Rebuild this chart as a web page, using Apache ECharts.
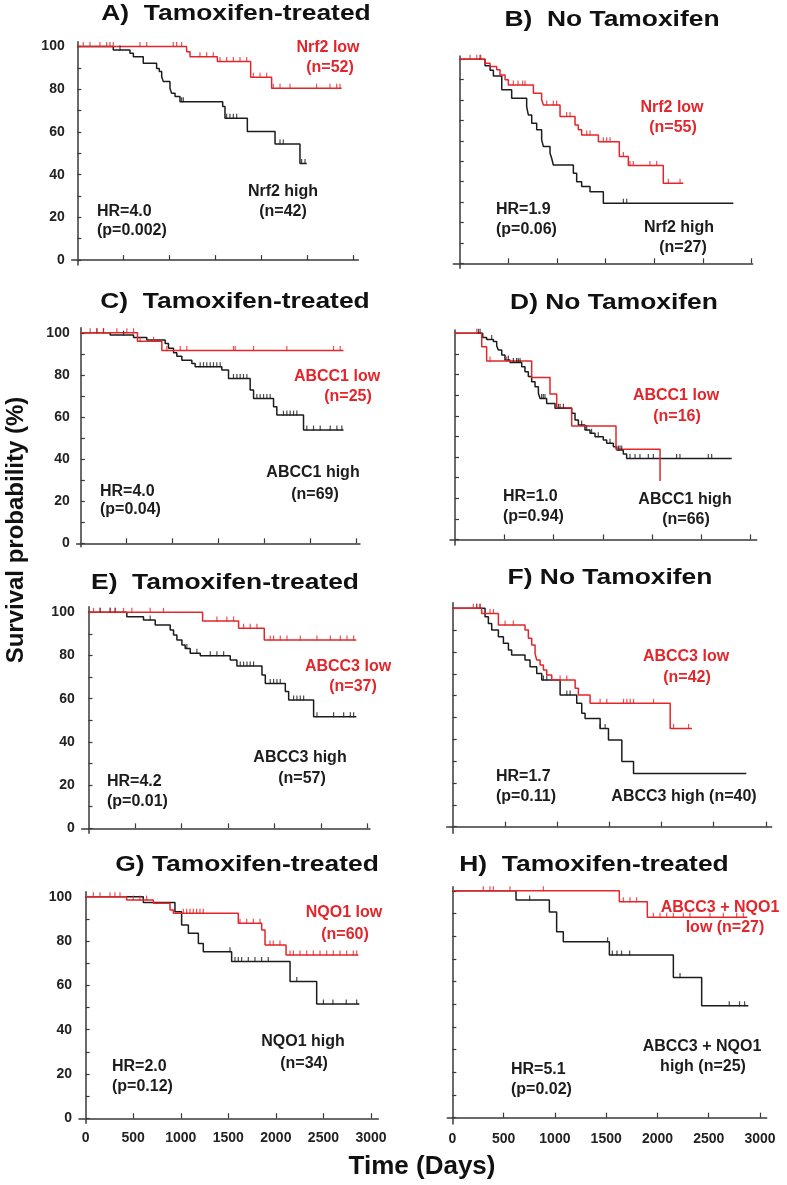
<!DOCTYPE html>
<html><head><meta charset="utf-8">
<script src="https://cdn.jsdelivr.net/npm/echarts@6/dist/echarts.min.js"></script>
<style>html,body{margin:0;padding:0;background:#fff}#c{width:787px;height:1185px}</style>
</head><body><div id="c"></div>
<script>
// ---------- DATA (days, survival %) ----------
const xTickValues = [500, 1000, 1500, 2000, 2500, 3000];
const xLabelValues = [0, 500, 1000, 1500, 2000, 2500, 3000];
const yTickValues = [0, 10, 20, 30, 40, 50, 60, 70, 80, 90, 100];
const yLabelValues = [0, 20, 40, 60, 80, 100];

// A
const A_low = [[0,100],[1188,97.6],[1225,95.3],[1522,93.0],[1884,85.6],[2112,80.5],[2873,80.5]];
const A_low_cens = [65,138,246,319,355,391,681,754,1043,1080,1134,1333,1406,1478,1551,1623,1696,1768,1841,1913,1986,2058,2130,2203,2312,2601,2746,2819,2855];
const A_high = [[0,100],[391,98.4],[572,96.9],[609,95.3],[717,92.2],[862,89.8],[891,88.3],[917,85.9],[935,83.6],[1007,80.5],[1025,78.1],[1062,76.6],[1116,74.2],[1580,71.9],[1605,66.4],[1848,60.2],[2149,54.4],[2420,45.3],[2493,45.3]];
const A_high_cens = [464,1134,1152,1623,1659,1696,1732,2203,2239,2438,2475];
// B
const B_low = [[0,100],[260,98.0],[312,96.4],[380,94.8],[414,92.3],[466,89.9],[500,87.4],[757,83.3],[842,80.1],[860,77.6],[1031,71.9],[1185,67.8],[1219,65.4],[1253,62.9],[1425,59.6],[1640,52.3],[1733,47.9],[2092,39.2],[2298,39.2]];
const B_low_cens = [106,175,216,551,599,647,671,894,962,996,1099,1134,1305,1339,1476,1510,1545,1682,1750,1784,1955,2024,2144,2264];
const B_high = [[0,100],[260,96.8],[312,94.6],[346,91.8],[432,85.0],[534,80.9],[688,76.8],[705,72.7],[740,68.6],[791,65.4],[842,60.5],[860,57.2],[928,53.9],[945,51.5],[962,48.2],[1168,44.1],[1202,40.0],[1253,37.6],[1339,35.1],[1476,29.4],[2812,29.4]];
const B_high_cens = [209,1682,1716];
// C
const C_low = [[0,100],[618,96.0],[884,91.6],[2865,91.6]];
const C_low_cens = [102,175,247,393,502,575,647,793,938,1084,1156,1665,1684,1884,2247,2756,2829];
const C_high = [[0,100],[320,98.9],[575,97.8],[720,96.5],[920,94.9],[956,92.6],[1011,90.5],[1047,88.9],[1102,87.0],[1211,85.4],[1247,83.9],[1538,82.3],[1611,78.3],[1847,72.8],[1884,68.8],[2102,64.9],[2138,60.9],[2429,53.8],[2865,53.8]];
const C_high_cens = [175,247,466,1302,1338,1374,1411,1447,1483,1520,1665,1702,1738,1774,1811,1920,1956,1993,2029,2065,2210,2247,2283,2320,2356,2465,2538,2611,2720,2793,2847];
// D
const D_low = [[0,100],[271,93.5],[321,86.6],[778,78.5],[964,70.6],[1032,63.9],[1184,55.0],[1634,43.7],[2081,28.3]];
const D_low_cens = [220,355,524];
const D_high = [[0,100],[281,98.0],[321,97.0],[389,96.0],[423,93.9],[440,91.9],[474,89.5],[507,87.1],[558,85.8],[677,83.8],[710,81.4],[744,79.0],[778,76.5],[812,74.1],[846,70.9],[863,68.4],[930,66.0],[1015,63.6],[1184,61.2],[1218,57.9],[1252,55.5],[1319,53.1],[1370,51.5],[1421,49.8],[1505,48.2],[1539,46.6],[1607,45.0],[1641,43.4],[1708,41.4],[1742,39.3],[2808,39.3]];
const D_high_cens = [237,254,372,541,592,625,642,660,879,896,913,1049,1066,1100,1285,1336,1386,1454,1573,1658,1675,1692,1776,1827,1877,1962,2013,2249,2283,2571,2605];
// E
const E_low = [[0,100],[1226,96.0],[1613,92.6],[1889,87.2],[2878,87.2]];
const E_low_cens = [54,125,233,287,376,466,663,806,1380,1487,1559,1667,1738,1810,1953,1989,2061,2133,2276,2455,2599,2706,2778,2849];
const E_high = [[0,100],[412,98.0],[591,96.5],[717,94.1],[878,91.8],[914,89.5],[950,87.2],[1004,84.9],[1039,83.3],[1093,81.0],[1201,79.9],[1523,77.9],[1595,75.2],[1864,71.0],[1900,67.1],[2115,63.3],[2151,59.4],[2419,51.7],[2878,51.7]];
const E_high_cens = [125,233,287,663,1057,1165,1309,1380,1452,1631,1667,1703,1738,1774,1953,1989,2025,2061,2204,2240,2276,2312,2455,2634,2742,2814,2849];
// F
const F_low = [[0,100],[278,97.7],[438,92.4],[693,90.1],[725,86.3],[757,83.2],[789,79.4],[805,76.3],[837,74.0],[869,71.8],[901,69.5],[949,67.2],[1173,63.4],[1204,60.3],[1316,56.5],[2083,45.0],[2291,45.0]];
const F_low_cens = [198,230,262,358,390,502,581,1029,1093,1412,1476,1636,1668,1700,1732,1923,2115,2259];
const F_high = [[0,100],[310,96.2],[342,93.1],[374,90.1],[438,87.0],[486,84.0],[534,80.9],[565,78.6],[693,76.3],[741,73.3],[805,70.2],[853,67.2],[1029,60.3],[1188,56.5],[1236,51.9],[1268,49.6],[1412,45.0],[1492,39.7],[1620,29.8],[1732,24.4],[2812,24.4]];
const F_high_cens = [230,262,869,901,1093,1125,1412,1460];
// G
const G_low = [[0,100],[431,98.5],[712,97.0],[887,94.0],[922,92.5],[1605,88.0],[1851,85.0],[1886,78.2],[2107,73.7],[2867,73.7]];
const G_low_cens = [81,151,256,308,361,501,571,641,1027,1062,1097,1132,1167,1202,1237,1623,1693,1763,1833,1938,1973,2043,2149,2184,2254,2324,2394,2464,2534,2604,2674,2744,2814,2850];
const G_high = [[0,100],[606,97.4],[939,93.2],[1009,87.2],[1080,83.5],[1185,78.9],[1237,75.2],[1535,70.7],[2149,61.7],[2429,51.6],[2878,51.6]];
const G_high_cens = [1518,1570,1605,1640,1710,1780,1850,1920,2220,2500,2600,2740,2850];
// H
const H_low = [[0,100],[1628,95.2],[1901,88.3],[2876,88.3]];
const H_low_cens = [302,367,400,562,887,1667,1732,1797,1960,2025,2090,2155,2252,2317,2512,2642,2772,2837];
const H_high = [[0,100],[621,95.9],[946,90.7],[1017,81.9],[1082,77.5],[1531,71.7],[2155,61.8],[2431,49.3],[2886,49.3]];
const H_high_cens = [754,1514,1560,1605,1650,1729,2220,2700,2800,2850];

const panelTitles = ['A)  Tamoxifen-treated','B)  No Tamoxifen','C)  Tamoxifen-treated','D) No Tamoxifen','E)  Tamoxifen-treated','F) No Tamoxifen','G) Tamoxifen-treated','H)  Tamoxifen-treated'];

// ---------- LAYOUT ----------
const RED = '#e3262b', BLACK = '#1c1c1c', AXIS = '#3a3a3a';
const FONT = '"Liberation Sans", Arial, Helvetica, sans-serif';
const panels = [
  {low:A_low, lowC:A_low_cens, high:A_high, highC:A_high_cens, left:71.7, top:41.7, right:358.3, bottom:265, xmin:-61, xmax:3054, ymin:-2.3, ymax:102.3, yl:true, xl:false, tx:236, ty:14},
  {low:B_low, lowC:B_low_cens, high:B_high, highC:B_high_cens, left:453.3, top:56, right:752.7, bottom:268.3, xmin:-66, xmax:3011, ymin:-2.45, ymax:101.6, yl:false, xl:false, tx:612, ty:20},
  {low:C_low, lowC:C_low_cens, high:C_high, highC:C_high_cens, left:76.7, top:327.7, right:360, bottom:546.7, xmin:-45, xmax:3045, ymin:-1.6, ymax:102.4, yl:true, xl:false, tx:235, ty:302},
  {low:D_low, lowC:D_low_cens, high:D_high, highC:D_high_cens, left:450, top:330, right:756.7, bottom:545, xmin:-51, xmax:3062, ymin:-2.7, ymax:101.6, yl:false, xl:false, tx:614, ty:303},
  {low:E_low, lowC:E_low_cens, high:E_high, highC:E_high_cens, left:81.7, top:606.7, right:370, bottom:833.3, xmin:-73, xmax:3025, ymin:-2.3, ymax:102.6, yl:true, xl:false, tx:225, ty:583},
  {low:F_low, lowC:F_low_cens, high:F_high, highC:F_high_cens, left:446.7, top:602.7, right:771.7, bottom:833.3, xmin:-57, xmax:3055, ymin:-3.05, ymax:102.6, yl:false, xl:false, tx:610, ty:578},
  {low:G_low, lowC:G_low_cens, high:G_high, highC:G_high_cens, left:79, top:891.7, right:378.3, bottom:1123.3, xmin:-70, xmax:3077, ymin:-2.25, ymax:102.25, yl:true, xl:true, tx:247, ty:865},
  {low:H_low, lowC:H_low_cens, high:H_high, highC:H_high_cens, left:447.3, top:886.7, right:766.7, bottom:1124, xmin:-49, xmax:3065, ymin:-2.8, ymax:101.8, yl:false, xl:true, tx:594, ty:865}
];

// annotations: [text, x, y, color, align]
const notes = [
  ['Nrf2 low',328,48,RED,'center'],['(n=52)',330,68,RED,'center'],
  ['Nrf2 high',283,192,BLACK,'center'],['(n=42)',283,212,BLACK,'center'],
  ['HR=4.0',97,212,BLACK,'left'],['(p=0.002)',97,231,BLACK,'left'],
  ['Nrf2 low',672,108,RED,'center'],['(n=55)',673,128,RED,'center'],
  ['HR=1.9',496,210,BLACK,'left'],['(p=0.06)',496,230,BLACK,'left'],
  ['Nrf2 high',679,228,BLACK,'center'],['(n=27)',683,248,BLACK,'center'],
  ['ABCC1 low',337,377,RED,'center'],['(n=25)',348,397,RED,'center'],
  ['ABCC1 high',313,473,BLACK,'center'],['(n=69)',315,495,BLACK,'center'],
  ['HR=4.0',100,492,BLACK,'left'],['(p=0.04)',100,510,BLACK,'left'],
  ['ABCC1 low',676,396,RED,'center'],['(n=16)',677,417,RED,'center'],
  ['HR=1.0',503,497,BLACK,'left'],['(p=0.94)',503,517,BLACK,'left'],
  ['ABCC1 high',685,500,BLACK,'center'],['(n=66)',686,520,BLACK,'center'],
  ['ABCC3 low',348,667,RED,'center'],['(n=37)',353,687,RED,'center'],
  ['ABCC3 high',300,758,BLACK,'center'],['(n=57)',302,779,BLACK,'center'],
  ['HR=4.2',107,782,BLACK,'left'],['(p=0.01)',107,802,BLACK,'left'],
  ['ABCC3 low',686,657,RED,'center'],['(n=42)',687,678,RED,'center'],
  ['HR=1.7',496,777,BLACK,'left'],['(p=0.11)',496,797,BLACK,'left'],
  ['ABCC3 high (n=40)',684,797,BLACK,'center'],
  ['NQO1 low',344,913,RED,'center'],['(n=60)',345,935,RED,'center'],
  ['NQO1 high',303,1042,BLACK,'center'],['(n=34)',304,1064,BLACK,'center'],
  ['HR=2.0',112,1067,BLACK,'left'],['(p=0.12)',112,1087,BLACK,'left'],
  ['ABCC3 + NQO1',720,908,RED,'center'],['low (n=27)',725,928,RED,'center'],
  ['ABCC3 + NQO1',702,1047,BLACK,'center'],['high (n=25)',703,1067,BLACK,'center'],
  ['HR=5.1',511,1070,BLACK,'left'],['(p=0.02)',511,1090,BLACK,'left']
];

function stepAt(curve, t) {
  let v = curve[0][1];
  for (const p of curve) { if (p[0] <= t) v = p[1]; else break; }
  return v;
}

const grid = [], xAxis = [], yAxis = [], series = [], graphic = [];
panels.forEach((p, i) => {
  grid.push({left:p.left, top:p.top, width:p.right-p.left, height:p.bottom-p.top, containLabel:false});
  xAxis.push({
    type:'value', gridIndex:i, min:p.xmin, max:p.xmax,
    axisLine:{show:true, lineStyle:{color:AXIS, width:1.5}},
    axisTick:{show:true, inside:true, length:5, customValues:xTickValues, lineStyle:{color:AXIS, width:1.2}},
    axisLabel:{show:p.xl, customValues:xLabelValues, formatter:v => String(v), margin:8, color:'#222', fontSize:14, fontWeight:'bold', fontFamily:FONT},
    splitLine:{show:false}
  });
  yAxis.push({
    type:'value', gridIndex:i, min:p.ymin, max:p.ymax,
    axisLine:{show:true, lineStyle:{color:AXIS, width:1.5}},
    axisTick:{show:true, inside:true, length:4, customValues:yTickValues, lineStyle:{color:AXIS, width:1.2}},
    axisLabel:{show:p.yl, customValues:yLabelValues, formatter:v => String(v), margin:7, color:'#222', fontSize:14, fontWeight:'bold', fontFamily:FONT},
    splitLine:{show:false}
  });
  const mk = (curve, cens, color) => {
    series.push({type:'line', xAxisIndex:i, yAxisIndex:i, data:curve, step:'end', showSymbol:false, symbol:'none',
      lineStyle:{color:color, width:1.5}, silent:true, z:2});
    series.push({type:'scatter', xAxisIndex:i, yAxisIndex:i, data:cens.map(t => [t, stepAt(curve, t)]),
      symbol:'rect', symbolSize:[1.2,5], symbolOffset:[0,-2], itemStyle:{color:color}, silent:true, z:3});
  };
  mk(p.high, p.highC, BLACK);
  mk(p.low, p.lowC, RED);
  graphic.push({type:'text', x:p.tx, y:p.ty, scaleX:1.2, style:{text:panelTitles[i], x:0, y:0, font:'bold 22px ' + FONT, fill:'#111', textAlign:'center', textVerticalAlign:'middle'}});
});
notes.forEach(n => {
  graphic.push({type:'text', x:n[1], y:n[2], style:{text:n[0], x:0, y:0, font:'bold 16px ' + FONT, fill:n[3], textAlign:n[4], textVerticalAlign:'middle'}});
});
graphic.push({type:'text', x:16, y:530, rotation:Math.PI/2, style:{text:'Survival probability (%)', x:0, y:0, font:'bold 24px ' + FONT, fill:'#111', textAlign:'center', textVerticalAlign:'middle'}});
graphic.push({type:'text', x:422, y:1167, style:{text:'Time (Days)', x:0, y:0, font:'bold 26px ' + FONT, fill:'#111', textAlign:'center', textVerticalAlign:'middle'}});

const chart = echarts.init(document.getElementById('c'), null, {renderer:'canvas'});
chart.setOption({animation:false, backgroundColor:'#fff', grid, xAxis, yAxis, series, graphic});
</script>
</body></html>
